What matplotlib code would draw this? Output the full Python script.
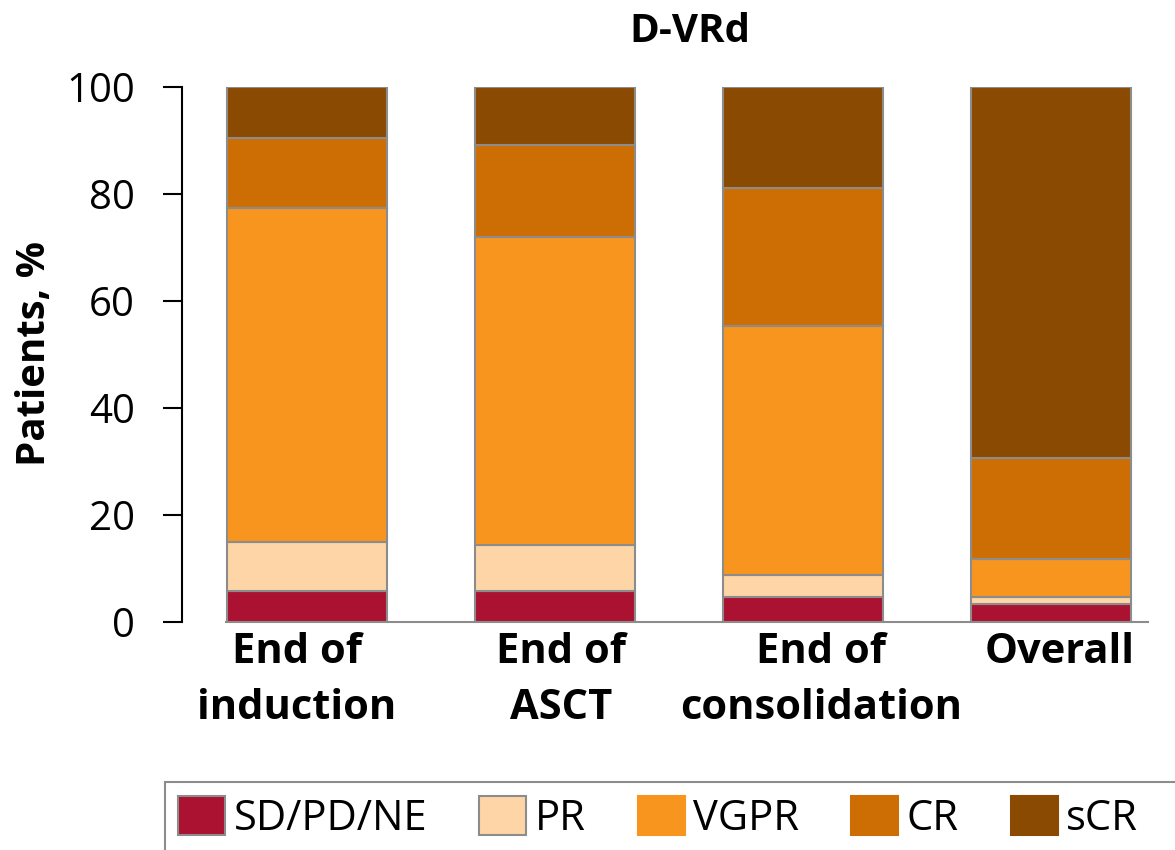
import matplotlib
matplotlib.use("Agg")
import matplotlib.pyplot as plt
from matplotlib.patches import Rectangle
import matplotlib.transforms as mtransforms
import numpy as np

plt.rcParams['font.family'] = ['Open Sans', 'DejaVu Sans']

categories = ["End of\ninduction", "End of\nASCT", "End of\nconsolidation", "Overall"]
series_names = ["SD/PD/NE", "PR", "VGPR", "CR", "sCR"]
sd_pd_ne = [5.8, 5.8, 4.7, 3.4]
pr = [9.2, 8.6, 4.1, 1.3]
vgpr = [62.4, 57.6, 46.5, 7.1]
cr = [13.1, 17.2, 25.8, 18.9]
scr = [9.5, 10.8, 18.9, 69.3]
colors = ["#AB1232", "#FDD5A6", "#F8951F", "#CD6E04", "#8A4A02"]
yticks = [0, 20, 40, 60, 80, 100]

W, H = 1175, 850
fig = plt.figure(figsize=(W / 100, H / 100), dpi=100)
ax = fig.add_axes([182 / W, 1 - 622 / H, 1 - 182 / W, (622 - 87) / H])

x = np.arange(len(categories))
bottom = np.zeros(len(categories))
handles = []
for name, vals, col in zip(series_names, [sd_pd_ne, pr, vgpr, cr, scr], colors):
    h = ax.bar(x, vals, width=0.645, bottom=bottom, color=col,
               edgecolor="#8c8c8c", linewidth=1.5, label=name, zorder=3)
    handles.append(h)
    bottom += np.array(vals)

ax.set_xlim(-0.504, 3.5)
ax.set_ylim(0, 100)
ax.set_yticks(yticks)
ax.tick_params(axis='y', labelsize=29, length=14, width=1.5, pad=20, color="black")
ax.set_xticks(x)
ax.set_xticklabels(categories, fontsize=30, fontweight="bold", linespacing=1.48)
ax.tick_params(axis='x', length=0, pad=7)

# nudge category labels sideways (pixels)
label_shift = [-10, 6, 18, 9]
for lbl, dx in zip(ax.get_xticklabels(), label_shift):
    lbl.set_transform(lbl.get_transform() +
                      mtransforms.ScaledTranslation(dx / 100, 0, fig.dpi_scale_trans))

for s in ["top", "right", "bottom"]:
    ax.spines[s].set_visible(False)
ax.spines["left"].set_linewidth(1.5)
ax.plot([-0.325, 3.39], [0, 0], color="#8c8c8c", linewidth=1.5, zorder=2, clip_on=False)

fig.text(35 / W, 1 - 354 / H, "Patients, %", fontsize=29, fontweight="bold",
         rotation=90, ha="center", va="center")
fig.text(690 / W, 1 - 31 / H, "D-VRd", fontsize=29, fontweight="bold",
         ha="center", va="center")

# legend box running off the right and bottom edges
fig.patches.append(Rectangle((165 / W, -0.05), 1.1, (1 - 782 / H) + 0.05,
                             transform=fig.transFigure, facecolor="white",
                             edgecolor="#8c8c8c", linewidth=1.5, zorder=1))
leg = fig.legend(handles=handles, labels=series_names, loc="upper left",
                 bbox_to_anchor=(178 / W, 1 - 796 / H), ncol=5, fontsize=30,
                 frameon=False, handlelength=1.13, handleheight=1.08,
                 handletextpad=0.2, columnspacing=1.25, borderpad=0,
                 borderaxespad=0)
leg.set_zorder(3)
for i, p in enumerate(leg.get_patches()):
    if i >= 2:
        p.set_edgecolor(colors[i])

fig.savefig("out.png", dpi=100)
